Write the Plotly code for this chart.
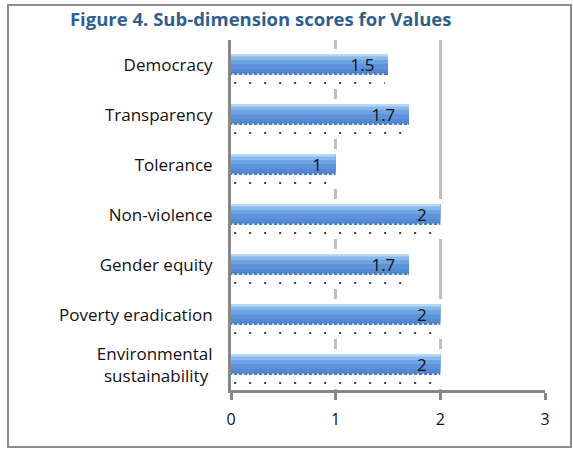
import plotly.graph_objects as go

categories = ["Democracy", "Transparency", "Tolerance", "Non-violence",
              "Gender equity", "Poverty eradication", "Environmental<br>sustainability "]
values = [1.5, 1.7, 1.0, 2.0, 1.7, 2.0, 2.0]
labels = ["1.5", "1.7", "1", "2", "1.7", "2", "2"]
x_ticks = [0, 1, 2, 3]

FONT = "Open Sans"
pos = list(range(len(categories)))

fig = go.Figure()

# white depth band (hides gridlines behind each bar row)
fig.add_trace(go.Bar(y=pos, x=[v + 0.03 for v in values], orientation="h",
                     width=0.8, offset=-0.32, marker=dict(color="white", line_width=0),
                     hoverinfo="skip", showlegend=False))

# bar body drawn as stacked shading bands (top of bar at offset -0.22)
bands = [(0.42, "#4a7ec4"), (0.37, "#5589d1"), (0.30, "#5d93da"),
         (0.20, "#6fa4e3"), (0.12, "#88b8ec"), (0.05, "#b6d7f6")]
for w, c in bands:
    fig.add_trace(go.Bar(y=pos, x=values, orientation="h", width=w, offset=-0.22,
                         marker=dict(color=c, line_width=0),
                         hoverinfo="skip", showlegend=False))

# bar bottom fringe and dotted shadow lines
for i, v in enumerate(values):
    fig.add_trace(go.Scatter(x=[0.01, v - 0.01], y=[i + 0.185, i + 0.185], mode="lines",
                             line=dict(color="#e6eef8", width=1.5, dash="2px,3px"),
                             hoverinfo="skip", showlegend=False))
    fig.add_trace(go.Scatter(x=[0.03, v - 0.03], y=[i + 0.36, i + 0.36], mode="lines",
                             line=dict(color="#404040", width=2, dash="2px,13px"),
                             hoverinfo="skip", showlegend=False))

# data labels
fig.add_trace(go.Scatter(x=[v - 0.13 for v in values], y=[p + 0.03 for p in pos],
                         mode="text", text=labels, textposition="middle left",
                         textfont=dict(family=FONT, size=17, color="#111111"),
                         hoverinfo="skip", showlegend=False))

fig.update_layout(
    width=573, height=449,
    margin=dict(l=231, r=28, t=40, b=59),
    paper_bgcolor="white", plot_bgcolor="white",
    barmode="overlay",
    title=dict(text="<b>Figure 4. Sub-dimension scores for Values</b>",
               x=0.455, xref="container", xanchor="center",
               y=1 - 20 / 449, yref="container", yanchor="middle",
               font=dict(family=FONT, size=18.5, color="#2f5f8f")),
    xaxis=dict(range=[0, 3], tickvals=x_ticks, ticktext=[str(t) for t in x_ticks],
               showgrid=True, gridcolor="#bfbfbf", gridwidth=3,
               showline=True, linecolor="#878787", linewidth=3,
               ticks="outside", ticklen=7, tickwidth=3, tickcolor="#878787",
               tickfont=dict(family=FONT, size=16, color="#111111"),
               ticklabelstandoff=6, zeroline=False, fixedrange=True),
    yaxis=dict(range=[6.5, -0.5], tickvals=pos, ticktext=categories,
               showgrid=False, showline=True, linecolor="#878787", linewidth=3,
               ticks="", tickfont=dict(family=FONT, size=17, color="#111111"),
               ticklabelstandoff=12, zeroline=False, fixedrange=True),
    shapes=[dict(type="rect", xref="paper", yref="paper",
                 x0=(8 - 231) / 314, x1=(571 - 231) / 314,
                 y0=(390 - 447) / 350, y1=(390 - 5) / 350,
                 line=dict(color="#8c8c8c", width=2), layer="below")],
)

fig.write_html("out.html", config={"displayModeBar": False},
               post_script="document.body.style.margin='0px';document.body.style.overflow='hidden';")
